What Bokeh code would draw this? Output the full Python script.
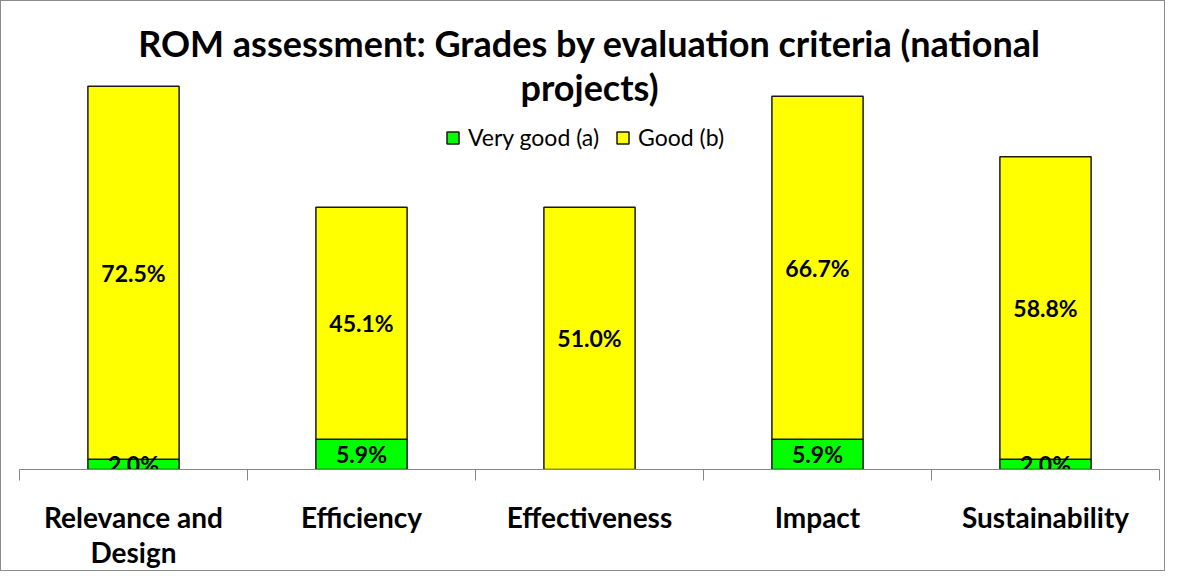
from bokeh.plotting import figure
from bokeh.models import ColumnDataSource, Range1d, FixedTicker, Label, Legend, LegendItem
from bokeh.embed import file_html
from bokeh.resources import INLINE
from bokeh.core.properties import value

categories = ["Relevance and Design", "Efficiency", "Effectiveness", "Impact", "Sustainability"]
tick_labels = ["Relevance and\nDesign", "Efficiency", "Effectiveness", "Impact", "Sustainability"]
very_good = [2.0, 5.9, 0.0, 5.9, 2.0]
good = [72.5, 45.1, 51.0, 66.7, 58.8]
series_names = ["Very good (a)", "Good (b)"]
colors = ["#00FF00", "#FFFF00"]
title_lines = ["ROM assessment: Grades by evaluation criteria (national", "projects)"]

xs = list(range(len(categories)))
src = ColumnDataSource(dict(x=xs, vg=very_good, g=good))

p = figure(width=1165, height=571, x_range=Range1d(-0.5, len(categories) - 0.5),
           y_range=Range1d(0, 91.0), y_axis_location=None,
           toolbar_location=None, output_backend="svg",
           min_border_left=18, min_border_right=7, min_border_top=0, min_border_bottom=102)
p.styles = {"border": "1px solid #8c8c8c"}
p.outline_line_color = None
p.xgrid.visible = False
p.ygrid.visible = False

rs = p.vbar_stack(["vg", "g"], x="x", width=0.4, source=src, fill_color=colors,
                  line_color="#1a1a1a", line_width=1.5)

# value labels
vg_x = [x for x, v in zip(xs, very_good) if v > 0]
vg_y = [v / 2 for v in very_good if v > 0]
vg_t = [f"{v:.1f}%" for v in very_good if v > 0]
g_y = [a + b / 2 for a, b in zip(very_good, good)]
g_t = [f"{v:.1f}%" for v in good]
for lx, ly, lt in ((vg_x, vg_y, vg_t), (xs, g_y, g_t)):
    p.text(x=lx, y=ly, text=lt, text_align="center", text_baseline="middle",
           text_font=value("Lato"), text_font_style="bold", text_font_size="23px",
           text_color="black")

# x axis
ax = p.xaxis[0]
ax.ticker = FixedTicker(ticks=xs, minor_ticks=[i - 0.5 for i in range(len(categories) + 1)])
ax.major_label_overrides = {i: t for i, t in zip(xs, tick_labels)}
ax.axis_line_color = "#868686"
ax.axis_line_width = 1
ax.major_tick_line_color = None
ax.major_tick_in = 0
ax.major_tick_out = 0
ax.minor_tick_line_color = "#868686"
ax.minor_tick_in = 0
ax.minor_tick_out = 11
ax.major_label_standoff = 19
ax.major_label_text_font = "Lato"
ax.major_label_text_font_style = "bold"
ax.major_label_text_font_size = "28px"
ax.major_label_text_color = "black"
ax.major_label_text_line_height = 1.05

# title
p.add_layout(Label(x=2, y=83.0, text=title_lines[0], text_align="center", text_baseline="alphabetic",
                   text_font="Lato", text_font_style="bold", text_font_size="36px", text_color="black"))
p.add_layout(Label(x=2, y=74.4, text=title_lines[1], text_align="center", text_baseline="alphabetic",
                   text_font="Lato", text_font_style="bold", text_font_size="36px", text_color="black"))

legend = Legend(items=[LegendItem(label=n, renderers=[r]) for n, r in zip(series_names, rs)],
                orientation="horizontal", location=(426, 318),
                background_fill_alpha=0, border_line_color=None,
                label_text_font="Lato", label_text_font_size="23px", label_text_color="black",
                glyph_width=15, glyph_height=15, padding=0, spacing=16, label_standoff=8, margin=0)
p.add_layout(legend)

open("out.html", "w").write(file_html(p, INLINE))
